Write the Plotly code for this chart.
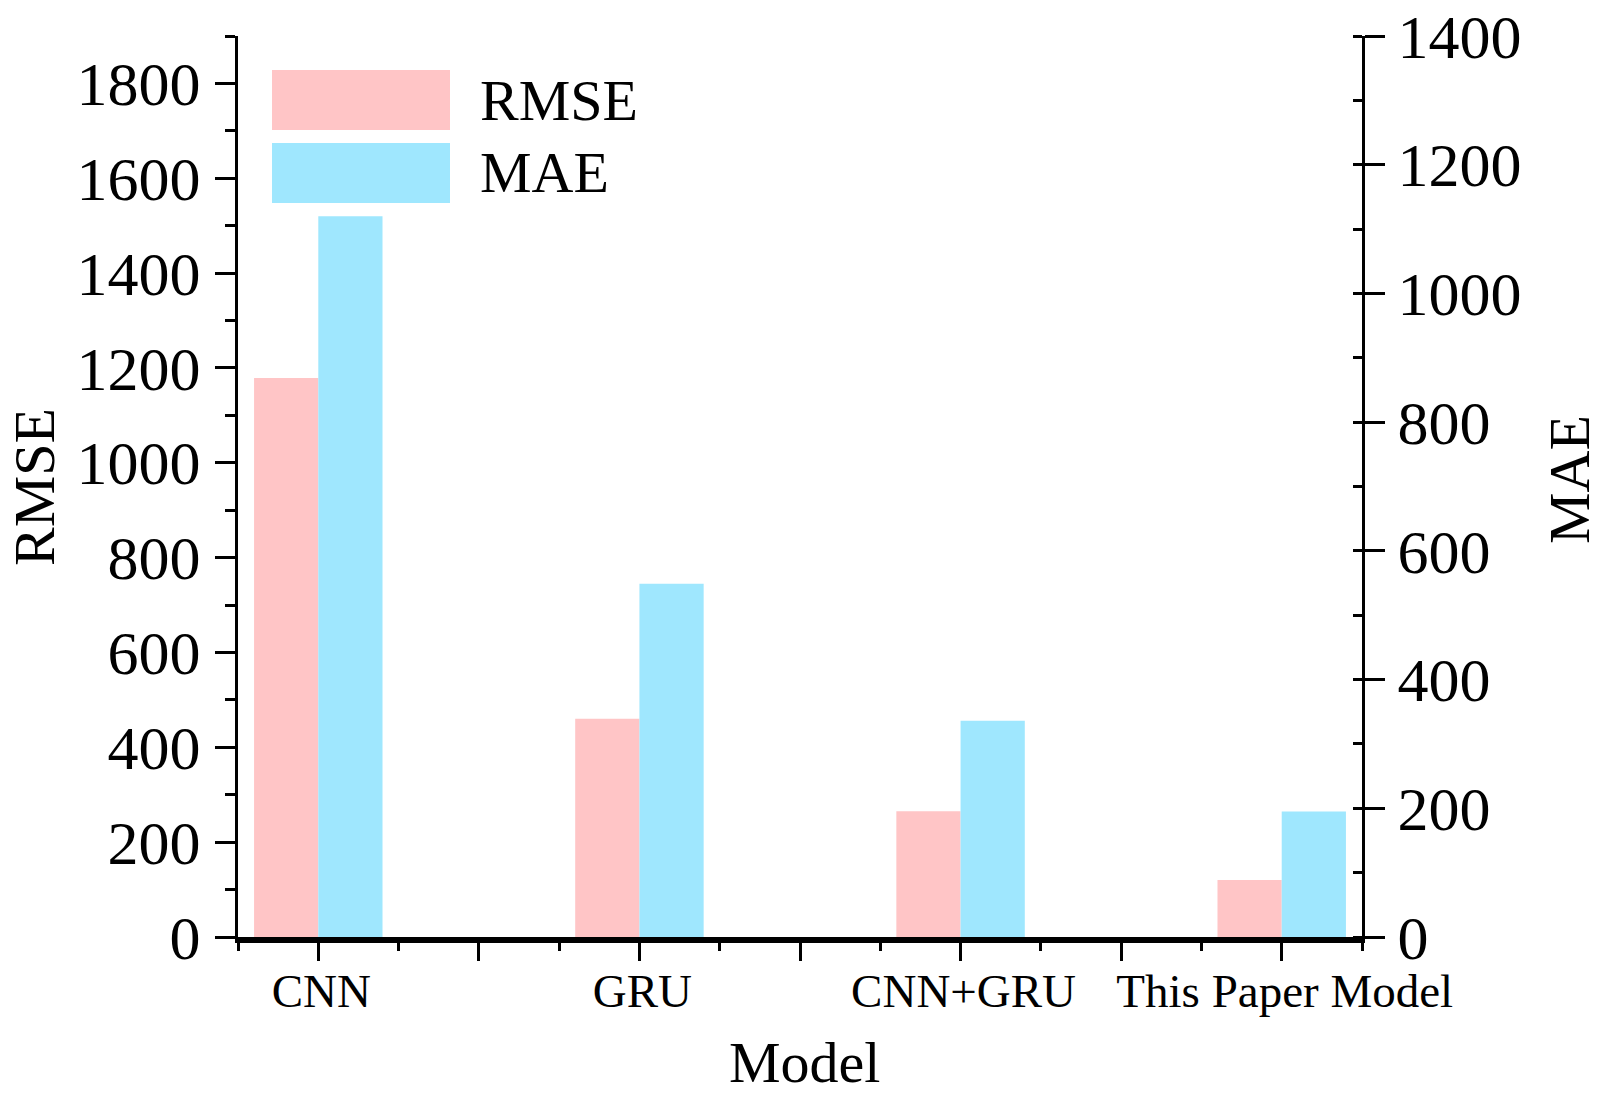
import plotly.graph_objects as go

categories = ["CNN", "GRU", "CNN+GRU", "This Paper Model"]
rmse = [1179, 460, 265, 120]
mae = [1120, 549, 336, 195]
series_names = ["RMSE", "MAE"]
colors = ["#FFC5C6", "#9FE7FE"]

xpos = [i + 1 for i in range(len(categories))]

FONT = "Liberation Serif, Times New Roman, serif"

fig = go.Figure()
fig.add_trace(go.Bar(x=xpos, y=rmse, name=series_names[0], marker=dict(color=colors[0], line=dict(width=0)),
                     width=0.2, offset=-0.2, yaxis="y", showlegend=False))
fig.add_trace(go.Bar(x=xpos, y=mae, name=series_names[1], marker=dict(color=colors[1], line=dict(width=0)),
                     width=0.2, offset=0.0, yaxis="y2", showlegend=False))

major_x = [1, 1.5, 2, 2.5, 3, 3.5, 4]
major_text = []
for v in major_x:
    major_text.append(categories[int(v) - 1] if float(v).is_integer() else "")
minor_x = [0.75, 1.25, 1.75, 2.25, 2.75, 3.25, 3.75, 4.25]

W, H = 1610, 1100
L, R, T, B = 238, 1362, 36, 937

fig.update_layout(
    width=W, height=H,
    margin=dict(l=L, r=W - R, t=T, b=H - B, pad=0, autoexpand=False),
    paper_bgcolor="white", plot_bgcolor="white",
    font=dict(family=FONT, color="black"),
    showlegend=False,
    hovermode=False,
    xaxis=dict(
        range=[0.75, 4.25], tickmode="array", tickvals=major_x, ticktext=major_text,
        ticks="outside", ticklen=18, tickwidth=3, tickcolor="black",
        showline=True, linewidth=6, linecolor="black", showgrid=False, zeroline=False,
        tickfont=dict(family=FONT, size=47, color="black"),
        minor=dict(tickmode="array", tickvals=minor_x, ticks="outside", ticklen=8, tickwidth=3, tickcolor="black", showgrid=False),
        ticklabelstandoff=-10, ticklabelshift=3, ticklabeloverflow="allow",
        fixedrange=True,
    ),
    yaxis=dict(
        range=[0, 1900], tickmode="linear", tick0=0, dtick=200,
        ticks="outside", ticklen=20, tickwidth=3, tickcolor="black",
        showline=True, linewidth=3, linecolor="black", showgrid=False, zeroline=False,
        tickfont=dict(family=FONT, size=62, color="black"),
        minor=dict(dtick=100, tick0=0, ticks="outside", ticklen=10, tickwidth=3, tickcolor="black", showgrid=False),
        ticklabelstandoff=2, ticklabeloverflow="allow",
    ),
    yaxis2=dict(
        range=[0, 1400], tickmode="linear", tick0=0, dtick=200, overlaying="y", side="right",
        ticks="outside", ticklen=20, tickwidth=3, tickcolor="black",
        showline=True, linewidth=3, linecolor="black", showgrid=False, zeroline=False,
        tickfont=dict(family=FONT, size=62, color="black"),
        minor=dict(dtick=100, tick0=0, ticks="inside", ticklen=9, tickwidth=3, tickcolor="black", showgrid=False),
        ticklabelstandoff=0, ticklabeloverflow="allow",
    ),
)

def px_x(px):
    return (px - L) / (R - L)

def px_y(py):
    return (B - py) / (B - T)

# axis titles
fig.add_annotation(text="Model", x=px_x(804), y=px_y(1062), xref="paper", yref="paper",
                   showarrow=False, xanchor="center", yanchor="middle",
                   font=dict(family=FONT, size=58, color="black"))
fig.add_annotation(text=series_names[0], x=px_x(34), y=px_y(487), xref="paper", yref="paper",
                   showarrow=False, xanchor="center", yanchor="middle", textangle=-90,
                   font=dict(family=FONT, size=58, color="black"))
fig.add_annotation(text=series_names[1], x=px_x(1569), y=px_y(480), xref="paper", yref="paper",
                   showarrow=False, xanchor="center", yanchor="middle", textangle=-90,
                   font=dict(family=FONT, size=58, color="black"))

# manual legend
legend_rows = [(70, 130), (143, 203)]
for name, col, (y0, y1) in zip(series_names, colors, legend_rows):
    fig.add_shape(type="rect", xref="paper", yref="paper",
                  x0=px_x(272), x1=px_x(450), y0=px_y(y1), y1=px_y(y0),
                  fillcolor=col, line=dict(width=0))
    fig.add_annotation(text=name, x=px_x(478), y=px_y((y0 + y1) / 2), xref="paper", yref="paper",
                       showarrow=False, xanchor="left", yanchor="middle",
                       font=dict(family=FONT, size=58, color="black"))

fig.write_html("out.html", config={"displayModeBar": False, "staticPlot": True},
               post_script="document.body.style.margin='0';document.body.style.overflow='hidden';")
